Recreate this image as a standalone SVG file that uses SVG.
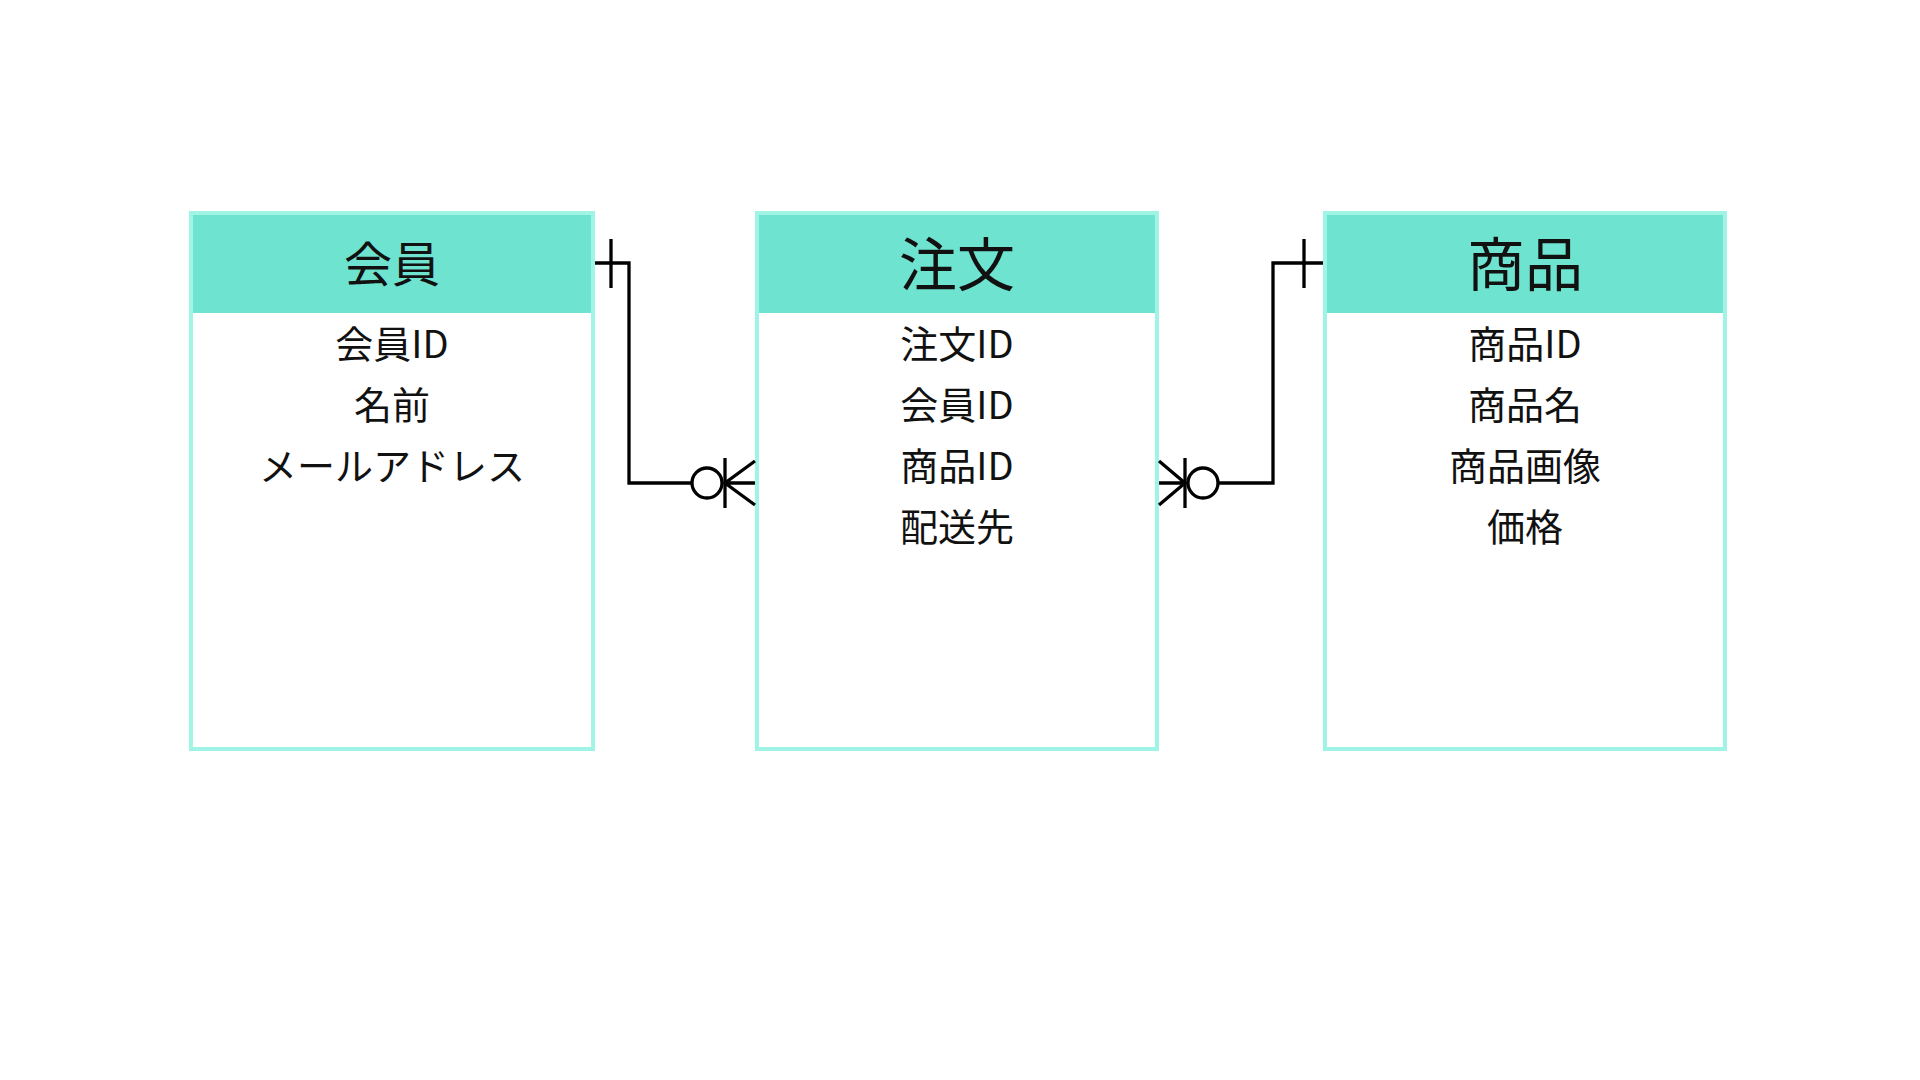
<svg xmlns="http://www.w3.org/2000/svg" width="1920" height="1080" viewBox="0 0 1920 1080">
<style>
.box{fill:#ffffff;stroke:#a0f4e6;stroke-width:4}
.hdr{fill:#6ee4d0}
.t{font-family:"Noto Sans CJK JP","Noto Sans",sans-serif;fill:#111;text-anchor:middle;dominant-baseline:central}
.h{font-size:58px}
.r{font-size:38px}
.c{fill:none;stroke:#000;stroke-width:3.3}
</style>
<rect width="1920" height="1080" fill="#ffffff"/>
<g id="member">
<rect class="box" x="191" y="213" width="402" height="536"/>
<rect class="hdr" x="193" y="215" width="398" height="98"/>
<text class="t h" x="392" y="261" style="font-size:48px">会員</text>
<text class="t r" x="392" y="341">会員ID</text>
<text class="t r" x="392" y="402">名前</text>
<text class="t r" x="392" y="463">メールアドレス</text>
</g>
<g id="order">
<rect class="box" x="757" y="213" width="400" height="536"/>
<rect class="hdr" x="759" y="215" width="396" height="98"/>
<text class="t h" x="957" y="261">注文</text>
<text class="t r" x="957" y="341">注文ID</text>
<text class="t r" x="957" y="402">会員ID</text>
<text class="t r" x="957" y="463">商品ID</text>
<text class="t r" x="957" y="524">配送先</text>
</g>
<g id="product">
<rect class="box" x="1325" y="213" width="400" height="536"/>
<rect class="hdr" x="1327" y="215" width="396" height="98"/>
<text class="t h" x="1525" y="261">商品</text>
<text class="t r" x="1525" y="341">商品ID</text>
<text class="t r" x="1525" y="402">商品名</text>
<text class="t r" x="1525" y="463">商品画像</text>
<text class="t r" x="1525" y="524">価格</text>
</g>
<g id="connectors">
<path class="c" d="M595 263 H629 V483 H692"/>
<line class="c" x1="611" y1="239" x2="611" y2="288"/>
<circle class="c" cx="707" cy="483" r="15"/>
<line class="c" x1="725" y1="458" x2="725" y2="508"/>
<path class="c" d="M755 461 L725 483 L755 505 M725 483 H755"/>
<path class="c" d="M1323 263 H1273 V483 H1218"/>
<line class="c" x1="1304" y1="239" x2="1304" y2="288"/>
<circle class="c" cx="1203" cy="483" r="15"/>
<line class="c" x1="1185" y1="458" x2="1185" y2="508"/>
<path class="c" d="M1159 461 L1185 483 L1159 505 M1159 483 H1185"/>
</g>
</svg>
